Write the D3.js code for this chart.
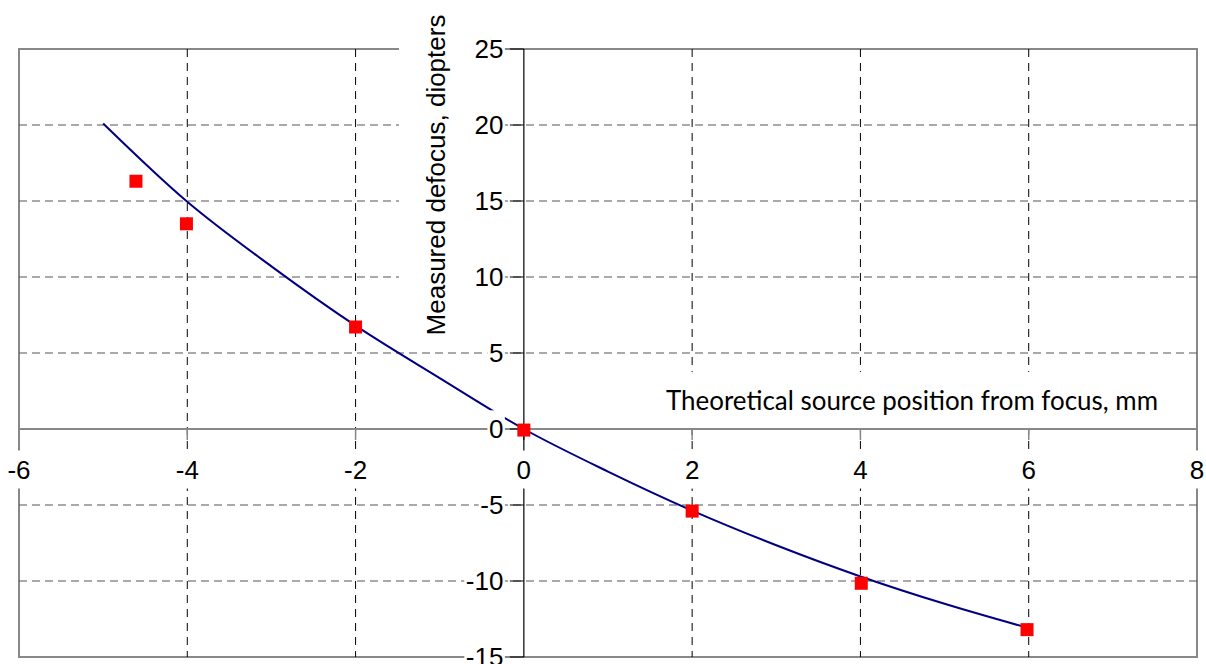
<!DOCTYPE html>
<html>
<head>
<meta charset="utf-8">
<script src="https://cdn.jsdelivr.net/npm/d3@7"></script>
<style>
  html, body { margin: 0; padding: 0; background: #fff; }
  svg { display: block; }
  .tick-label { font-family: "Liberation Sans", Arial, sans-serif; font-size: 26px; fill: #000; }
  .y-title { font-family: "Liberation Sans", Arial, sans-serif; font-size: 26px; fill: #000; }
  .x-title { font-family: Lato, "Open Sans", sans-serif; font-size: 26px; fill: #000; }
</style>
</head>
<body>
<div id="chart"></div>
<script>
const xTicks = [-6, -4, -2, 0, 2, 4, 6, 8];
const yTicks = [-15, -10, -5, 0, 5, 10, 15, 20, 25];

// fitted curve, read at each mm
const fitX = [-5, -4, -3, -2, -1, 0, 1, 2, 3, 4, 5, 6];
const fitY = [20.1, 14.95, 10.7, 6.8, 3.35, 0, -2.8, -5.37, -7.65, -9.7, -11.5, -13.1];

// measured points
const measX = [-4.61, -4.01, -2.0, 0, 2.0, 4.01, 5.98];
const measY = [16.3, 13.5, 6.71, -0.07, -5.4, -10.15, -13.2];

const xTitle = 'Theoretical source position from focus, mm';
const yTitle = 'Measured defocus, diopters';

drawChart();

function drawChart() {
    const width = 1206, height = 664;

    const svg = d3.select('#chart')
        .append('svg')
        .attr('width', width)
        .attr('height', height);

    const x = d3.scaleLinear().domain([-6, 8]).range([19, 1197]);
    const y = d3.scaleLinear().domain([-15, 25]).range([657, 49]);

    // plot frame
    svg.append('rect')
        .attr('x', x(-6)).attr('y', y(25))
        .attr('width', x(8) - x(-6)).attr('height', y(-15) - y(25))
        .attr('fill', 'none').attr('stroke', '#888').attr('stroke-width', 2);

    // horizontal grid
    svg.selectAll('line.hgrid')
        .data(yTicks.filter(d => d !== 0 && d !== 25 && d !== -15))
        .enter().append('line')
        .attr('class', 'hgrid')
        .attr('x1', x(-6)).attr('x2', x(8))
        .attr('y1', d => y(d)).attr('y2', d => y(d))
        .attr('stroke', '#555').attr('stroke-dasharray', '8,5');

    // vertical grid
    svg.selectAll('line.vgrid')
        .data(xTicks.filter(d => d !== 0 && d !== -6 && d !== 8))
        .enter().append('line')
        .attr('class', 'vgrid')
        .attr('x1', d => x(d)).attr('x2', d => x(d))
        .attr('y1', y(25)).attr('y2', y(-15))
        .attr('stroke', '#000').attr('stroke-dasharray', '8,6');

    // x axis line through zero
    svg.append('line')
        .attr('x1', x(-6)).attr('x2', x(8))
        .attr('y1', y(0)).attr('y2', y(0))
        .attr('stroke', '#888').attr('stroke-width', 2);

    svg.selectAll('line.xtick')
        .data(xTicks)
        .enter().append('line')
        .attr('class', 'xtick')
        .attr('x1', d => x(d)).attr('x2', d => x(d))
        .attr('y1', y(0)).attr('y2', y(0) + 11)
        .attr('stroke', d => d === 0 ? '#000' : '#888')
        .attr('stroke-width', d => d === 0 ? 1 : 1.5);

    // y axis line through zero
    svg.append('line')
        .attr('x1', x(0)).attr('x2', x(0))
        .attr('y1', y(25)).attr('y2', y(-15))
        .attr('stroke', '#000').attr('stroke-width', 1.2);

    svg.selectAll('line.ytick')
        .data(yTicks)
        .enter().append('line')
        .attr('class', 'ytick')
        .attr('x1', x(0) - 14).attr('x2', x(0))
        .attr('y1', d => y(d)).attr('y2', d => y(d))
        .attr('stroke', '#000');

    // fitted curve
    const fit = fitX.map((d, i) => [d, fitY[i]]);
    svg.append('path')
        .datum(fit)
        .attr('fill', 'none')
        .attr('stroke', '#000080')
        .attr('stroke-width', 2)
        .attr('d', d3.line()
            .x(d => x(d[0]))
            .y(d => y(d[1]))
            .curve(d3.curveMonotoneX));

    // measured points
    const meas = measX.map((d, i) => [d, measY[i]]);
    svg.selectAll('rect.meas')
        .data(meas)
        .enter().append('rect')
        .attr('class', 'meas')
        .attr('x', d => x(d[0]) - 6.5)
        .attr('y', d => y(d[1]) - 6.5)
        .attr('width', 13).attr('height', 13)
        .attr('fill', '#ff0000');

    // labels with white boxes
    const labels = svg.append('g');

    function boxed(text, pad) {
        const b = text.node().getBBox();
        labels.insert('rect', 'text')
            .attr('x', b.x - pad[0]).attr('y', b.y - pad[1])
            .attr('width', b.width + 2 * pad[0]).attr('height', b.height + 2 * pad[1])
            .attr('fill', '#fff');
    }

    yTicks.forEach(d => {
        const t = labels.append('text')
            .attr('class', 'tick-label')
            .attr('x', x(0) - 20.5)
            .attr('y', y(d) + 9.3)
            .attr('text-anchor', 'end')
            .text(d);
        boxed(t, [1.5, 4]);
    });

    xTicks.forEach(d => {
        const t = labels.append('text')
            .attr('class', 'tick-label')
            .attr('x', x(d))
            .attr('y', y(0) + 49.5)
            .attr('text-anchor', 'middle')
            .text(d);
        boxed(t, [1, 4]);
    });

    // y title (rotated) with its box
    const yt = labels.append('text')
        .attr('class', 'y-title')
        .attr('text-anchor', 'middle')
        .attr('transform', 'translate(445,175) rotate(-90)')
        .text(yTitle);
    const yb = yt.node().getBBox();
    labels.insert('rect', 'text')
        .attr('x', 399).attr('y', 0)
        .attr('width', 78).attr('height', 175 + yb.width / 2 + 10)
        .attr('fill', '#fff');

    // x title with its box
    const xt = labels.append('text')
        .attr('class', 'x-title')
        .attr('x', 666).attr('y', 410)
        .attr('textLength', 492)
        .attr('lengthAdjust', 'spacingAndGlyphs')
        .text(xTitle);
    const xb = xt.node().getBBox();
    labels.insert('rect', 'text')
        .attr('x', xb.x - 6).attr('y', 372)
        .attr('width', xb.width + 12).attr('height', y(0) - 1 - 372)
        .attr('fill', '#fff');
}
</script>
</body>
</html>
